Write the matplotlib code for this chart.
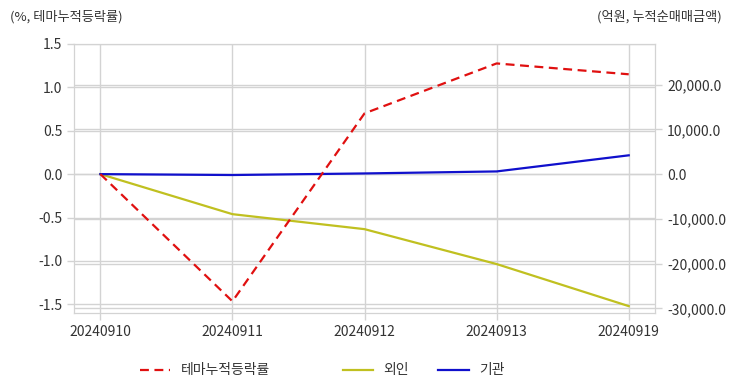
import numpy as np
import matplotlib.pyplot as plt
from matplotlib.ticker import FuncFormatter

plt.rcParams['font.family'] = ['Noto Sans CJK KR', 'DejaVu Sans']

dates = ["20240910", "20240911", "20240912", "20240913", "20240919"]
theme_rate = [0.0, -1.465, 0.70, 1.275, 1.15]
foreign = [0.0, -8950, -12300, -20100, -29500]
institution = [0.0, -200, 150, 600, 4200]

left_ticks = [-1.5, -1.0, -0.5, 0.0, 0.5, 1.0, 1.5]
right_ticks = [-30000, -20000, -10000, 0, 10000, 20000]
scale = 19400  # right units per left unit

grid_c = "#d3d3d3"
text_c = "#333333"

fig = plt.figure(figsize=(7.32, 3.92), dpi=100)
ax2 = fig.add_axes([0.101, 0.2015, 0.794, 0.6865])
ax = ax2.twinx()
# bottom axes (money) on the right, top axes (percent) on the left
ax2.yaxis.tick_right()
ax.yaxis.tick_left()

x = np.arange(len(dates))

ln1, = ax.plot(x, theme_rate, color="#e01010", lw=1.6, ls=(0, (4, 2.5)),
               label="테마누적등락률", zorder=5)
ln2, = ax2.plot(x, foreign, color="#c0c020", lw=1.6, label="외인", zorder=4)
ln3, = ax2.plot(x, institution, color="#1010cc", lw=1.6, label="기관", zorder=4)

ax2.set_xlim(-0.2, len(dates) - 0.8)
ax.set_ylim(-1.6, 1.5)
ax2.set_ylim(-1.6 * scale, 1.5 * scale)

ax2.set_xticks(x)
ax2.set_xticklabels(dates)
ax.set_yticks(left_ticks)
ax.yaxis.set_major_formatter(FuncFormatter(lambda v, p: f"{v:.1f}"))
ax2.set_yticks(right_ticks)
ax2.yaxis.set_major_formatter(FuncFormatter(lambda v, p: f"{v:,.1f}"))

# all gridlines live on the bottom axes so they stay under every line
ax2.grid(True, color=grid_c, lw=1, zorder=0)
for v in left_ticks:
    ax2.axhline(v * scale, color=grid_c, lw=1, zorder=0)
ax2.set_axisbelow(True)
ax.patch.set_visible(False)

for a in (ax, ax2):
    for s in a.spines.values():
        s.set_color(grid_c)
    a.tick_params(colors=text_c, labelsize=10, length=5, width=1)
    a.tick_params(axis="both", color=grid_c)

fig.text(0.014, 0.958, "(%, 테마누적등락률)", fontsize=9.5, color=text_c,
         ha="left", va="center")
fig.text(0.986, 0.958, "(억원, 누적순매매금액)", fontsize=9.5, color=text_c,
         ha="right", va="center")

leg1 = fig.legend(handles=[ln1], loc="center left", bbox_to_anchor=(0.1735, 0.055),
                  frameon=False, fontsize=10, handlelength=2.2, handletextpad=0.75)
for t in leg1.get_texts():
    t.set_color(text_c)
leg2 = fig.legend(handles=[ln2, ln3], loc="center left", bbox_to_anchor=(0.451, 0.055),
                  frameon=False, fontsize=10, ncol=2, handlelength=2.2,
                  handletextpad=0.75, columnspacing=2.1)
for t in leg2.get_texts():
    t.set_color(text_c)

fig.savefig("out.png", dpi=100)
